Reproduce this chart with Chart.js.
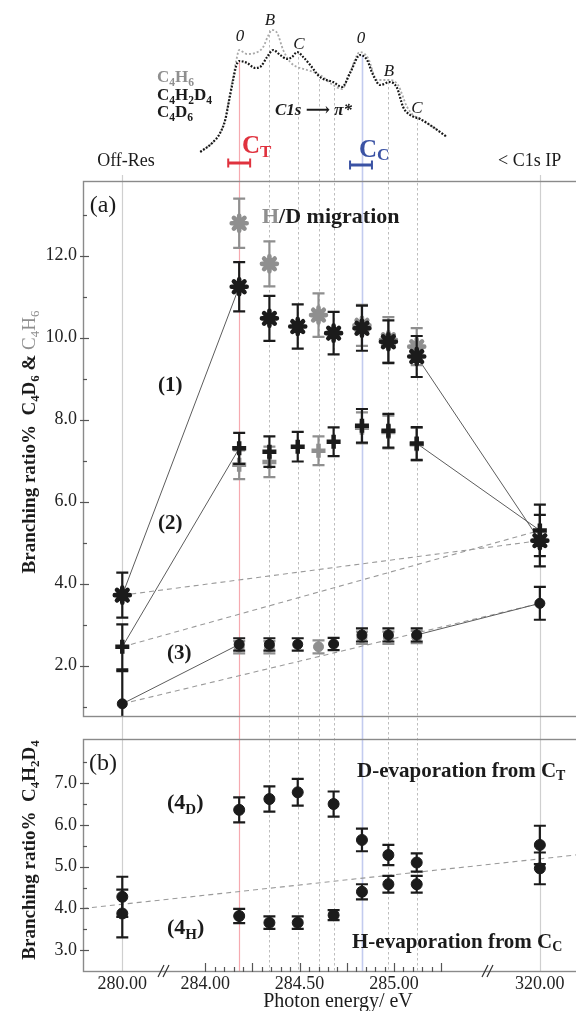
<!DOCTYPE html>
<html>
<head>
<meta charset="utf-8">
<script src="https://cdn.jsdelivr.net/npm/chart.js@4.4.1/dist/chart.umd.min.js"></script>
<style>
html, body { margin:0; padding:0; background:#fff; width:576px; height:1011px; overflow:hidden; }
#wrap { position:relative; width:600px; height:1011px; }
</style>
</head>
<body>
<div id="wrap"><canvas id="c"></canvas></div>
<script>
// ================= DATA =================
// Panel (a): C4D6 (black) series
const energiesD6 = [280, 284.18, 284.34, 284.49, 284.68, 284.83, 284.97, 285.12, 320];
const starD6     = [3.72, 11.24, 10.47, 10.27, 10.11, 10.23, 9.90, 9.54, 5.05];
const starD6Err  = [0.55, 0.60, 0.55, 0.54, 0.52, 0.55, 0.52, 0.50, 0.63];
const plusD6     = [2.46, 7.30, 7.22, 7.34, 7.46, 7.85, 7.73, 7.42, 5.30];
const plusD6Err  = [0.55, 0.38, 0.37, 0.36, 0.35, 0.41, 0.41, 0.40, 0.63];
const circD6     = [1.07, 2.52, 2.52, 2.52, 2.53, 2.75, 2.75, 2.75, 3.52];
const circD6Err  = [0.80, 0.15, 0.15, 0.15, 0.15, 0.16, 0.16, 0.16, 0.40];

// Panel (a): C4H6 (grey) series
const energiesH6 = [284.18, 284.34, 284.60, 284.83, 284.97, 285.12];
const starH6     = [12.79, 11.80, 10.55, 10.30, 9.95, 9.78];
const starH6Err  = [0.60, 0.55, 0.53, 0.50, 0.55, 0.45];
const plusH6     = [6.90, 6.97, 7.24, 7.80, 7.70, 7.40];
const plusH6Err  = [0.35, 0.37, 0.35, 0.38, 0.40, 0.40];
const circH6     = [2.45, 2.45, 2.46, 2.68, 2.68, 2.70];
const circH6Err  = [0.15, 0.15, 0.16, 0.15, 0.15, 0.15];

// Panel (b): C4H2D4
const energiesB  = [280, 284.18, 284.34, 284.49, 284.68, 284.83, 284.97, 285.12, 320];
const evapD      = [4.28, 6.36, 6.62, 6.78, 6.50, 5.64, 5.28, 5.10, 5.52];
const evapDErr   = [0.48, 0.30, 0.30, 0.32, 0.30, 0.27, 0.24, 0.22, 0.46];
const evapH      = [3.88, 3.82, 3.66, 3.66, 3.84, 4.40, 4.58, 4.58, 4.96];
const evapHErr   = [0.57, 0.17, 0.15, 0.15, 0.12, 0.18, 0.20, 0.20, 0.38];
const trendB     = [4.00, 5.33];   // dashed reference line, left edge -> right edge

// NEXAFS spectrum (arbitrary intensity)
const specEnergyD6 = [283.974, 284.037, 284.079, 284.106, 284.127, 284.148, 284.164, 284.180, 284.222, 284.265, 284.291, 284.328, 284.360, 284.397, 284.434, 284.460, 284.487, 284.519, 284.556, 284.608, 284.677, 284.725, 284.767, 284.820, 284.857, 284.889, 284.926, 284.979, 285.016, 285.048, 285.085, 285.138, 285.206, 285.280];
const specIntD6    = [29, 38, 48, 61, 81, 101, 115, 120, 118, 113, 114, 124, 131, 126, 122, 124, 129, 124, 116, 104, 99, 94, 108, 126, 121, 106, 96, 99, 93, 74, 66, 62, 54, 44];
const specEnergyH6 = [283.974, 284.037, 284.079, 284.106, 284.127, 284.148, 284.164, 284.180, 284.201, 284.222, 284.265, 284.307, 284.333, 284.354, 284.381, 284.413, 284.450, 284.487, 284.540, 284.608, 284.677, 284.725, 284.767, 284.820, 284.862, 284.910, 284.979, 285.021, 285.069, 285.101, 285.138, 285.206, 285.280];
const specIntH6    = [29, 38, 48, 62, 83, 104, 120, 131, 129, 127, 128, 134, 145, 151, 148, 131, 119, 114, 111, 106, 96, 92, 109, 129, 123, 101, 101, 96, 74, 66, 62, 54, 44];

// vertical reference lines (energy, start intensity on the spectrum, kind)
const vlineEnergies = [280, 284.18, 284.34, 284.49, 284.60, 284.68, 284.83, 284.97, 285.12, 320];
const vlineTops     = [6, 120, 151, 129, 102, 93, 126, 99, 63, 6];
const vlineKinds    = ['off', 'red', 'dot', 'dot', 'dot', 'dot', 'blue', 'dot', 'dot', 'off'];
// photon band widths at C_T and C_C
const bandCentres   = [284.18, 284.825];
const bandHalfWidth = 0.058;
const bandLevels    = [18, 16];

// axis ticks
const xLabelEnergies = [280, 284.0, 284.5, 285.0, 320];
const xMinorEnergies = []; for (let k = 0; k <= 25; k++) xMinorEnergies.push(+(284 + k * 0.05).toFixed(2));
const yATicks = [1, 2, 3, 4, 5, 6, 7, 8, 9, 10, 11, 12, 13];
const yBTicks = [3, 3.5, 4, 4.5, 5, 5.5, 6, 6.5, 7, 7.5];

// ================= STYLE / LAYOUT =================
const SERIF = '"Liberation Serif", "Times New Roman", "DejaVu Serif", serif';
const BLACK = '#1b1b1b', GREY = '#8f8f8f', RED = '#e0323e', BLUE = '#3a52a4';
const VSTYLE = {
  off:  { c: '#cfcfcf', w: 1.2, d: [] },
  red:  { c: '#f6aab0', w: 1.2, d: [] },
  blue: { c: '#c3cbef', w: 1.6, d: [] },
  dot:  { c: '#bdbdbd', w: 1, d: [2.5, 2.5] }
};
// broken x axis: 280 and 320 are placed onto compressed outer segments
const U280 = 283.561, U320 = 285.772, OUTER = 0.02;
function toU(E) { if (E < 282) return U280 + (E - 280) * OUTER; if (E > 300) return U320 + (E - 320) * OUTER; return E; }
const X_MIN = 283.353, X_MAX = 286.064;

const pts = (E, V) => E.map((e, i) => ({ x: toU(e), y: V[i] }));
const pair = (E, V, i, j) => [{ x: toU(E[i]), y: V[i] }, { x: toU(E[j]), y: V[j] }];

function marker(E, V, err, style, color, axis, order, r, bw) {
  return { data: pts(E, V), errors: err, errColor: color, yAxisID: axis, order,
    pointStyle: style, pointRadius: r, pointHoverRadius: r, borderWidth: bw,
    borderColor: color, backgroundColor: color, showLine: false };
}
function seg(data, axis, dashed) {
  return { data, yAxisID: axis, showLine: true, pointRadius: 0, pointHoverRadius: 0,
    borderColor: dashed ? '#9a9a9a' : '#5c5c5c', borderWidth: dashed ? 1.1 : 1,
    borderDash: dashed ? [5, 4] : [], order: 5, fill: false };
}
const L = energiesD6.length - 1;
const datasets = [
  marker(energiesD6, starD6, starD6Err, 'star', BLACK, 'yA', 1, 7.5, 4.6),
  marker(energiesD6, plusD6, plusD6Err, 'cross', BLACK, 'yA', 1, 7, 4.5),
  marker(energiesD6, circD6, circD6Err, 'circle', BLACK, 'yA', 1, 5, 1),
  marker(energiesH6, starH6, starH6Err, 'star', GREY, 'yA', 2, 7.5, 4.6),
  marker(energiesH6, plusH6, plusH6Err, 'cross', GREY, 'yA', 2, 7, 4.5),
  marker(energiesH6, circH6, circH6Err, 'circle', GREY, 'yA', 2, 5, 1),
  marker(energiesB, evapD, evapDErr, 'circle', BLACK, 'yB', 1, 5.5, 1),
  marker(energiesB, evapH, evapHErr, 'circle', BLACK, 'yB', 1, 5.5, 1),
];
[starD6, plusD6, circD6].forEach(s => {
  datasets.push(seg(pair(energiesD6, s, 0, 1), 'yA', false));
  datasets.push(seg(pair(energiesD6, s, L - 1, L), 'yA', false));
  datasets.push(seg(pair(energiesD6, s, 0, L), 'yA', true));
});
datasets.push(seg([{ x: X_MIN, y: trendB[0] }, { x: X_MAX, y: trendB[1] }], 'yB', true));
datasets.push({ data: pts(specEnergyH6, specIntH6), yAxisID: 'ySpec', showLine: true, pointRadius: 0,
  borderColor: '#a9a9a9', borderWidth: 1.8, borderDash: [2, 2], cubicInterpolationMode: 'monotone', order: 7 });
datasets.push({ data: pts(specEnergyD6, specIntD6), yAxisID: 'ySpec', showLine: true, pointRadius: 0,
  borderColor: '#151515', borderWidth: 2.2, borderDash: [1.8, 1.6], cubicInterpolationMode: 'monotone', order: 6 });

// ================= TEXT HELPERS =================
function fontFor(p, b) {
  const size = p.size || (p.sub ? b.size * 0.68 : b.size);
  const w = p.w || b.weight || 'normal';
  const st = p.style || b.style || 'normal';
  return `${st} ${w} ${size}px ${SERIF}`;
}
function richWidth(ctx, parts, b) {
  let w = 0; for (const p of parts) { ctx.font = fontFor(p, b); w += ctx.measureText(p.t).width; } return w;
}
function drawRich(ctx, parts, x, y, b, align) {
  const w = richWidth(ctx, parts, b);
  let cx = align === 'center' ? x - w / 2 : (align === 'right' ? x - w : x);
  ctx.textAlign = 'left'; ctx.textBaseline = 'alphabetic';
  for (const p of parts) {
    ctx.font = fontFor(p, b);
    ctx.fillStyle = p.c || b.color || BLACK;
    const dy = p.dy !== undefined ? p.dy : (p.sub ? b.size * 0.22 : 0);
    ctx.fillText(p.t, cx, y + dy);
    cx += ctx.measureText(p.t).width;
  }
}
const TEXTS = [
  { p: [{ t: '0' }], x: 240, y: 41, b: { size: 17, style: 'italic' }, a: 'center' },
  { p: [{ t: 'B' }], x: 270, y: 25, b: { size: 17, style: 'italic' }, a: 'center' },
  { p: [{ t: 'C' }], x: 299, y: 49, b: { size: 17, style: 'italic' }, a: 'center' },
  { p: [{ t: '0' }], x: 361, y: 43, b: { size: 17, style: 'italic' }, a: 'center' },
  { p: [{ t: 'B' }], x: 389, y: 76, b: { size: 17, style: 'italic' }, a: 'center' },
  { p: [{ t: 'C' }], x: 417, y: 113, b: { size: 17, style: 'italic' }, a: 'center' },
  { p: [{ t: 'C' }, { t: '4', sub: 1 }, { t: 'H' }, { t: '6', sub: 1 }], x: 157, y: 82, b: { size: 17, weight: 'bold', color: GREY } },
  { p: [{ t: 'C' }, { t: '4', sub: 1 }, { t: 'H' }, { t: '2', sub: 1 }, { t: 'D' }, { t: '4', sub: 1 }], x: 157, y: 100, b: { size: 17, weight: 'bold' } },
  { p: [{ t: 'C' }, { t: '4', sub: 1 }, { t: 'D' }, { t: '6', sub: 1 }], x: 157, y: 117, b: { size: 17, weight: 'bold' } },
  { p: [{ t: 'C1s \u27F6 \u03C0*' }], x: 275, y: 115, b: { size: 17, weight: 'bold', style: 'italic' } },
  { p: [{ t: 'C', size: 25 }, { t: 'T', size: 17, dy: 4 }], x: 242, y: 153, b: { size: 25, weight: 'bold', color: RED } },
  { p: [{ t: 'C', size: 25 }, { t: 'C', size: 17, dy: 3 }], x: 359, y: 157, b: { size: 25, weight: 'bold', color: BLUE } },
  { p: [{ t: 'Off-Res' }], x: 126, y: 166, b: { size: 18 }, a: 'center' },
  { p: [{ t: '< C1s IP' }], x: 498, y: 166, b: { size: 18 } },
  { p: [{ t: '(a)' }], x: 103, y: 212, b: { size: 24 }, a: 'center' },
  { p: [{ t: 'H', c: GREY }, { t: '/D migration' }], x: 262, y: 223, b: { size: 22, weight: 'bold' } },
  { p: [{ t: '(1)' }], x: 158, y: 391, b: { size: 21, weight: 'bold' } },
  { p: [{ t: '(2)' }], x: 158, y: 529, b: { size: 21, weight: 'bold' } },
  { p: [{ t: '(3)' }], x: 167, y: 659, b: { size: 21, weight: 'bold' } },
  { p: [{ t: '(b)' }], x: 103, y: 770, b: { size: 24 }, a: 'center' },
  { p: [{ t: '(4' }, { t: 'D', size: 15, dy: 5 }, { t: ')' }], x: 167, y: 809, b: { size: 22, weight: 'bold' } },
  { p: [{ t: '(4' }, { t: 'H', size: 15, dy: 5 }, { t: ')' }], x: 167, y: 934, b: { size: 22, weight: 'bold' } },
  { p: [{ t: 'D-evaporation from C' }, { t: 'T', size: 14, dy: 3 }], x: 357, y: 777, b: { size: 21, weight: 'bold' } },
  { p: [{ t: 'H-evaporation from C' }, { t: 'C', size: 14, dy: 3 }], x: 352, y: 948, b: { size: 21, weight: 'bold' } },
  { p: [{ t: 'Photon energy/ eV' }], x: 338, y: 1007, b: { size: 20 }, a: 'center' },
  { p: [{ t: 'Branching ratio%' }, { t: '  ' }, { t: 'C' }, { t: '4', sub: 1 }, { t: 'D' }, { t: '6', sub: 1 }, { t: ' & ' },
        { t: 'C', c: GREY, w: 'normal' }, { t: '4', sub: 1, c: GREY, w: 'normal' }, { t: 'H', c: GREY, w: 'normal' }, { t: '6', sub: 1, c: GREY, w: 'normal' }],
    x: 35, y: 442, b: { size: 19, weight: 'bold' }, a: 'center', rot: true },
  { p: [{ t: 'Branching ratio%' }, { t: '  ' }, { t: 'C' }, { t: '4', sub: 1 }, { t: 'H' }, { t: '2', sub: 1 }, { t: 'D' }, { t: '4', sub: 1 }],
    x: 35, y: 850, b: { size: 19, weight: 'bold' }, a: 'center', rot: true },
];
const BREAKS = [164, 488];

// ================= PLUGIN =================
const decor = {
  id: 'decor',
  beforeDatasetsDraw(chart) {
    const { ctx, scales } = chart;
    const x = scales.x, yS = scales.ySpec, yB = scales.yB;
    vlineEnergies.forEach((E, i) => {
      const st = VSTYLE[vlineKinds[i]];
      const px = Math.round(x.getPixelForValue(toU(E))) + 0.5;
      ctx.save();
      ctx.strokeStyle = st.c; ctx.lineWidth = st.w; ctx.setLineDash(st.d);
      ctx.beginPath(); ctx.moveTo(px, yS.getPixelForValue(vlineTops[i])); ctx.lineTo(px, yB.bottom); ctx.stroke();
      ctx.restore();
    });
  },
  beforeDatasetDraw(chart, args) {
    const ds = chart.data.datasets[args.index];
    const ctx = chart.ctx, ca = chart.chartArea;
    if (ds.errors) {
      const ys = chart.scales[ds.yAxisID];
      ctx.save();
      ctx.beginPath(); ctx.rect(ca.left, ys.top, ca.right - ca.left, ys.bottom - ys.top); ctx.clip();
      ctx.strokeStyle = ds.errColor; ctx.lineWidth = 2.2; ctx.setLineDash([]); ctx.lineCap = 'butt';
      args.meta.data.forEach((el, i) => {
        const v = ds.data[i].y, e = ds.errors[i];
        const t = ys.getPixelForValue(v + e), b = ys.getPixelForValue(v - e);
        ctx.beginPath();
        ctx.moveTo(el.x, t); ctx.lineTo(el.x, b);
        ctx.moveTo(el.x - 6, t); ctx.lineTo(el.x + 6, t);
        ctx.moveTo(el.x - 6, b); ctx.lineTo(el.x + 6, b);
        ctx.stroke();
      });
      ctx.restore();
    }
    ctx.lineCap = ds.pointStyle === 'star' ? 'round' : 'butt';
  },
  afterDatasetDraw(chart) { chart.ctx.lineCap = 'butt'; },
  afterDraw(chart) {
    const { ctx, chartArea: ca, scales } = chart;
    const x = scales.x, yS = scales.ySpec, yA = scales.yA, yB = scales.yB;
    ctx.save();
    // panel frames
    ctx.setLineDash([]); ctx.strokeStyle = '#8a8a8a'; ctx.lineWidth = 1.4;
    [yA, yB].forEach(s => { ctx.strokeRect(ca.left + 0.5, s.top + 0.5, ca.right - ca.left + 10, s.bottom - s.top - 1); });
    // inward tick marks
    ctx.strokeStyle = '#555'; ctx.lineWidth = 1.2;
    const yTicks = (s, vals) => vals.forEach(v => {
      const p = Math.round(s.getPixelForValue(v)) + 0.5; const major = Number.isInteger(v) && (s === yB || v % 2 === 0);
      ctx.beginPath(); ctx.moveTo(ca.left - (major ? 3 : 0), p); ctx.lineTo(ca.left + (major ? 6 : 4), p); ctx.stroke();
    });
    yTicks(yA, yATicks); yTicks(yB, yBTicks);
    xMinorEnergies.forEach((E, k) => {
      const p = Math.round(x.getPixelForValue(toU(E))) + 0.5; const len = k % 5 === 0 ? 9 : 5;
      ctx.beginPath(); ctx.moveTo(p, yB.bottom); ctx.lineTo(p, yB.bottom - len); ctx.stroke();
    });
    // axis break marks
    ctx.strokeStyle = '#333'; ctx.lineWidth = 1.2;
    BREAKS.forEach(bx => {
      ctx.beginPath();
      ctx.moveTo(bx - 6, yB.bottom + 5); ctx.lineTo(bx, yB.bottom - 7);
      ctx.moveTo(bx - 1, yB.bottom + 5); ctx.lineTo(bx + 5, yB.bottom - 7);
      ctx.stroke();
    });
    // photon band bars
    const bandColors = [RED, BLUE];
    bandCentres.forEach((c, i) => {
      const l = x.getPixelForValue(toU(c - bandHalfWidth)), r = x.getPixelForValue(toU(c + bandHalfWidth));
      const y = yS.getPixelForValue(bandLevels[i]);
      ctx.strokeStyle = bandColors[i];
      ctx.lineWidth = 3; ctx.beginPath(); ctx.moveTo(l, y); ctx.lineTo(r, y); ctx.stroke();
      ctx.lineWidth = 2; ctx.beginPath(); ctx.moveTo(l, y - 4.5); ctx.lineTo(l, y + 4.5); ctx.moveTo(r, y - 4.5); ctx.lineTo(r, y + 4.5); ctx.stroke();
    });
    // texts
    TEXTS.forEach(T => {
      if (T.rot) {
        ctx.save(); ctx.translate(T.x, T.y); ctx.rotate(-Math.PI / 2);
        drawRich(ctx, T.p, 0, 0, T.b, 'center'); ctx.restore();
      } else drawRich(ctx, T.p, T.x, T.y, T.b, T.a || 'left');
    });
    ctx.restore();
  }
};

// ================= CHART =================
const noPad = s => { s.paddingTop = 0; s.paddingBottom = 0; s.paddingLeft = 0; s.paddingRight = 0; };
const fitY = s => { s.width = 83; noPad(s); };
const hidden = { ticks: { display: false }, grid: { display: false }, border: { display: false } };
new Chart(document.getElementById('c'), {
  type: 'scatter',
  data: { datasets },
  options: {
    responsive: true, maintainAspectRatio: false, animation: false, events: [],
    layout: { autoPadding: false, padding: { left: 0, right: 5, top: 0, bottom: 0 } },
    plugins: { legend: { display: false }, tooltip: { enabled: false } },
    scales: {
      x: {
        type: 'linear', position: 'bottom', min: X_MIN, max: X_MAX,
        afterBuildTicks: s => { s.ticks = xLabelEnergies.map(E => ({ value: toU(E) })); },
        afterFit: s => { s.height = 39; noPad(s); },
        grid: { display: false, drawTicks: false }, border: { display: false },
        ticks: { autoSkip: false, maxRotation: 0, minRotation: 0, padding: 1, color: '#222',
          font: { family: SERIF, size: 18 }, callback: (v, i) => xLabelEnergies[i].toFixed(2) }
      },
      ySpec: Object.assign({ type: 'linear', position: 'left', stack: 'panels', stackWeight: 181, weight: 4,
        min: 0, max: 181, afterFit: fitY }, hidden),
      yA: {
        type: 'linear', position: 'left', stack: 'panels', stackWeight: 536, weight: 3, min: 0.749, max: 13.82,
        afterBuildTicks: s => { s.ticks = yATicks.map(v => ({ value: v })); },
        afterFit: fitY,
        grid: { display: false, drawTicks: false }, border: { display: false },
        ticks: { autoSkip: false, padding: 6, color: '#222', font: { family: SERIF, size: 18 },
          callback: v => (v % 2 === 0 ? v.toFixed(1) : '') }
      },
      yGap: Object.assign({ type: 'linear', position: 'left', stack: 'panels', stackWeight: 22, weight: 2,
        min: 0, max: 1, afterFit: fitY }, hidden),
      yB: {
        type: 'linear', position: 'left', stack: 'panels', stackWeight: 233, weight: 1, min: 2.48, max: 8.056,
        afterBuildTicks: s => { s.ticks = yBTicks.map(v => ({ value: v })); },
        afterFit: fitY,
        grid: { display: false, drawTicks: false }, border: { display: false },
        ticks: { autoSkip: false, padding: 6, color: '#222', font: { family: SERIF, size: 18 },
          callback: v => (Number.isInteger(v) && v <= 7 ? v.toFixed(1) : '') }
      }
    }
  },
  plugins: [decor]
});
</script>
</body>
</html>
